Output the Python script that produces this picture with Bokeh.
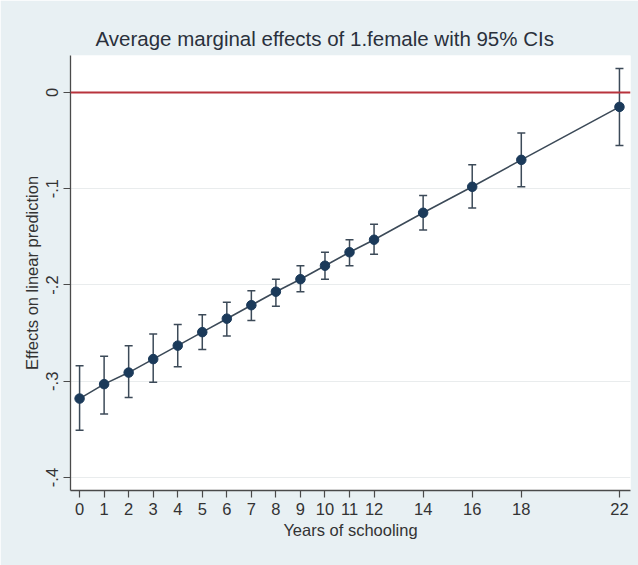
from bokeh.plotting import figure
from bokeh.models import ColumnDataSource, Whisker, TeeHead, FixedTicker, Span, Range1d
from bokeh.embed import file_html
from bokeh.resources import INLINE

# ---- data ----
years = [0, 1, 2, 3, 4, 5, 6, 7, 8, 9, 10, 11, 12, 14, 16, 18, 22]
effect = [-0.318, -0.303, -0.291, -0.277, -0.263, -0.249, -0.235, -0.221, -0.207,
          -0.194, -0.180, -0.166, -0.153, -0.125, -0.098, -0.070, -0.015]
ci_upper = [-0.284, -0.274, -0.263, -0.251, -0.241, -0.231, -0.218, -0.206, -0.194,
            -0.180, -0.166, -0.153, -0.137, -0.107, -0.075, -0.042, 0.025]
ci_lower = [-0.351, -0.334, -0.317, -0.301, -0.285, -0.267, -0.253, -0.237, -0.222,
            -0.207, -0.194, -0.180, -0.168, -0.143, -0.120, -0.098, -0.055]
x_ticks = [0, 1, 2, 3, 4, 5, 6, 7, 8, 9, 10, 11, 12, 14, 16, 18, 22]
y_ticks = [0, -0.1, -0.2, -0.3, -0.4]
y_tick_labels = ["0", "-.1", "-.2", "-.3", "-.4"]
reference_line = 0

title_text = "Average marginal effects of 1.female with 95% CIs"
x_label = "Years of schooling"
y_label = "Effects on linear prediction"

FONT = "Liberation Sans"
BG = "#e8f0f3"
NAVY = "#1b3a5a"
LINE = "#3c4a58"

source = ColumnDataSource(dict(x=years, y=effect, upper=ci_upper, lower=ci_lower))

p = figure(width=638, height=565, output_backend="svg", toolbar_location=None,
           x_range=Range1d(-0.37, 22.45), y_range=Range1d(-0.4135, 0.0384),
           min_border_left=70, min_border_right=8, min_border_top=55, min_border_bottom=75)

p.border_fill_color = BG
p.background_fill_color = "white"
p.outline_line_color = None

# title (positioned so it is centred over the whole graph)
p.title.text = title_text
p.title.align = "left"
p.title.offset = 25
p.title.standoff = 12
p.title.text_font = FONT
p.title.text_font_size = "20.5px"
p.title.text_font_style = "normal"
p.title.text_color = "#2a303c"

# grid
p.xgrid.visible = False
p.ygrid.ticker = FixedTicker(ticks=y_ticks)
p.ygrid.grid_line_color = "#e9eced"
p.ygrid.grid_line_width = 1

# axes
for ax in (p.xaxis[0], p.yaxis[0]):
    ax.axis_line_color = "#4a4a4a"
    ax.axis_line_width = 1.3
    ax.major_tick_line_color = "#4a4a4a"
    ax.major_tick_line_width = 1.2
    ax.major_tick_out = 7
    ax.major_tick_in = 0
    ax.minor_tick_line_color = None
    ax.major_label_text_font = FONT
    ax.major_label_text_font_size = "16.5px"
    ax.major_label_text_color = "#333333"
    ax.axis_label_text_font = FONT
    ax.axis_label_text_font_size = "16.5px"
    ax.axis_label_text_font_style = "normal"
    ax.axis_label_text_color = "#333333"

p.xaxis.ticker = FixedTicker(ticks=x_ticks)
p.xaxis.axis_label = x_label
p.xaxis.major_label_standoff = 5
p.xaxis.axis_label_standoff = 3

p.yaxis.ticker = FixedTicker(ticks=y_ticks)
p.yaxis.major_label_overrides = {t: lab for t, lab in zip(y_ticks, y_tick_labels)}
p.yaxis.major_label_orientation = "vertical"
p.yaxis.axis_label = y_label
p.yaxis.major_label_standoff = 5
p.yaxis.axis_label_standoff = 3

# zero reference line
p.add_layout(Span(location=reference_line, dimension="width",
                  line_color="#b8333c", line_width=2))

# confidence intervals
whisk = Whisker(base="x", upper="upper", lower="lower", source=source,
                line_color=LINE, line_width=1.5,
                upper_head=TeeHead(size=8, line_color=LINE, line_width=1.5),
                lower_head=TeeHead(size=8, line_color=LINE, line_width=1.5))
p.add_layout(whisk)

# connecting line and markers
p.line("x", "y", source=source, line_color=LINE, line_width=1.6)
p.scatter("x", "y", source=source, size=9.5, fill_color=NAVY, line_color=NAVY)

open("out.html", "w").write(file_html(p, INLINE))
